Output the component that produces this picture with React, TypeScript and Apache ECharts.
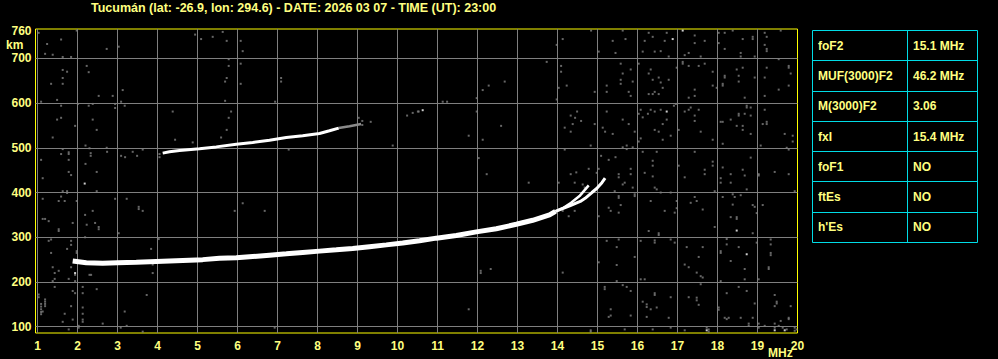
import React, { useEffect, useRef } from "react";
import * as echarts from "echarts";

const TITLE = "Tucumán (lat: -26.9, lon: 294.6) - DATE: 2026 03 07 - TIME (UT): 23:00";
const xGridValues = [1, 2, 3, 4, 5, 6, 7, 8, 9, 10, 11, 12, 13, 14, 15, 16, 17, 18, 19];
const xLabelValues = [1, 2, 3, 4, 5, 6, 7, 8, 9, 10, 11, 12, 13, 14, 15, 16, 17, 18, 19, 20];
const yGridValues = [100, 200, 300, 400, 500, 600, 700];
const yLabelValues = [100, 200, 300, 400, 500, 600, 700, 760];

const tableLabels = ["foF2", "MUF(3000)F2", "M(3000)F2", "fxI", "foF1", "ftEs", "h'Es"];
const tableValues = ["15.1 MHz", "46.2 MHz", "3.06", "15.4 MHz", "NO", "NO", "NO"];

// main F2 trace (MHz, km)
const lowTrace = [
  [1.88, 247], [2.22, 243], [2.63, 242], [3.0, 243], [3.47, 244], [4.3, 247], [5.13, 250],
  [5.55, 253], [5.97, 254], [6.38, 257], [6.8, 260], [7.22, 263], [7.63, 266], [8.05, 269],
  [8.47, 272], [8.88, 275], [9.3, 279], [9.72, 283], [10.13, 287], [10.55, 292], [10.97, 298],
  [11.47, 304], [11.97, 312], [12.47, 319], [12.97, 329], [13.38, 338], [13.8, 350], [13.95, 358],
];
const branchA = [[13.95, 358], [14.13, 365], [14.34, 377], [14.55, 392], [14.78, 416]];
const branchB = [
  [13.95, 358], [14.32, 371], [14.57, 380], [14.69, 387], [14.86, 400], [14.98, 409],
  [15.11, 422], [15.19, 432],
];
// second hop trace
const upperTrace = [
  [4.13, 488], [4.3, 491], [4.55, 494], [5.05, 498], [5.47, 502], [5.97, 508], [6.38, 512],
  [6.8, 517], [7.22, 523], [7.63, 527], [8.05, 532], [8.3, 538], [8.53, 544],
];
const upperTail = [[8.53, 544], [8.8, 548], [9.09, 553]];

const noiseWhite = [
  [2.18, 420], [1.94, 220], [10.63, 584], [16.88, 743], [17.13, 762], [16.73, 581],
  [18.48, 315], [18.73, 262], [17.73, 92], [19.43, 92], [19.68, 92],
];

const noiseGray = [
  [1.03,757],[1.24,732],[1.59,742],[1.19,710],[1.38,708],[1.63,703],[1.84,703],[1.98,762],[2.73,721],[3.03,726],[1.63,674],[1.74,670],[2.23,683],[2.28,669],[1.63,656],[1.34,643],[1.63,643],[2.53,616],[2.88,616],[3.13,629],[1.09,603],[1.49,607],[2.01,598],[2.28,594],[2.38,598],[2.94,598],[2.94,589],[3.09,603],[3.18,594],[1.59,594],[1.49,563],[1.59,567],[1.94,549],[2.38,563],[2.48,540],[1.38,523],[2.2,505],[2.3,499],[2.73,500],[1.63,497],[1.59,486],[1.78,490],[1.78,486],[1.09,473],[1.78,473],[2.2,464],[2.33,488],[2.33,482],[3.09,482],[3.19,479],[3.38,491],[3.49,482],[3.63,496],[2.74,491],[1.78,446],[1.84,439],[2.48,446],[1.13,432],[4.05,486],[4.05,479],[4.38,581],[4.44,518],[4.88,512],[4.94,753],[5.09,743],[5.38,748],[5.63,759],[5.73,739],[6.08,739],[6.13,716],[5.78,698],[5.78,683],[6.08,688],[5.73,656],[5.69,648],[6.08,643],[5.69,605],[5.84,581],[5.78,567],[5.73,540],[5.59,523],[7.09,656],[7.09,648],[6.94,603],[7.28,496],[9.03,567],[9.12,560],[9.12,551],[9.33,558],[9.88,505],[10.24,572],[10.38,578],[10.51,581],
  [10.53,581],[11.13,603],[11.24,603],[12.13,629],[12.28,639],[12.68,648],[12.59,549],[11.78,527],[12.13,518],[11.98,611],[11.98,581],[12.03,477],[12.23,441],[13.73,692],[13.98,730],[14.13,743],[14.09,683],[14.09,670],[14.03,634],[14.23,639],[13.98,608],[14.33,572],[14.44,567],[14.59,560],[14.49,581],[14.38,553],[14.18,545],[14.33,536],[14.84,762],[15.03,715],[15.38,739],[15.45,712],[15.63,762],[15.7,743],[15.58,688],[15.63,666],[15.83,675],[15.58,652],[15.58,643],[15.88,648],[15.23,639],[15.23,625],[14.93,625],[15.78,625],[15.83,616],[15.23,581],[15.13,545],[15.19,536],[15.38,531],[15.63,563],[15.78,553],[15.93,536],[14.93,553],[14.83,505],[14.18,496],[15.09,482],[15.28,473],[15.45,479],[15.03,453],[14.98,444],[14.78,453],[14.47,445],[14.33,441],[15.53,441],[15.53,434],[15.73,505],[15.73,497],[15.63,501],[15.88,501],[15.83,453],[16.18,739],[16.28,757],[16.38,748],[16.13,715],[16.43,715],[16.58,716],[16.68,739],[16.73,757],[16.78,704],[16.03,688],[16.28,666],[16.33,675],[16.38,652],[16.53,657],[16.58,646],[16.78,652],[16.63,634],[16.43,625],[16.38,620],[16.53,620],[16.28,620],[16.03,576],[16.13,568],[16.26,576],[16.08,585],[16.33,585],[16.43,581],[16.58,585],[16.73,563],[16.63,553],[16.43,540],[16.53,536],[16.63,518],[16.83,527],[16.08,521],[16.03,514],[16.13,491],[16.48,491],[16.38,471],[16.38,460],[16.18,444],[16.38,436],[15.83,441],[17.43,751],[17.43,734],[17.68,739],[17.28,712],[17.18,707],[17.58,704],[17.13,692],[17.13,688],[17.28,683],[17.53,683],[17.68,688],[16.98,679],[17.88,670],[17.88,639],[17.98,634],[17.43,630],[17.43,616],[17.28,612],[16.91,594],[16.96,598],[17.18,581],[17.28,585],[17.33,590],[17.53,585],[17.43,572],[17.43,560],[17.03,540],[17.58,536],[17.88,518],[17.43,491],[17.03,460],[17.88,469],[17.88,460],[17.18,434],[17.68,451],[17.68,441],[18.03,757],[18.03,734],[18.18,757],[18.38,762],[18.63,743],[18.88,748],[18.88,743],[18.18,721],[18.58,712],[18.58,704],[18.93,704],[19.18,757],[19.23,748],[19.18,730],[19.23,721],[19.23,716],[19.58,762],[19.53,698],[18.18,661],[18.18,657],[18.13,643],[18.13,639],[18.53,661],[18.53,648],[18.48,675],[18.63,679],[18.93,657],[19.18,657],[19.23,679],[19.78,683],[19.78,679],[19.83,666],[19.53,630],[19.78,639],[18.68,612],[19.18,616],[18.73,594],[18.73,590],[18.83,590],[18.53,572],[18.53,576],[18.33,563],[18.08,558],[18.13,558],[18.68,576],[18.83,572],[18.48,549],[18.63,549],[18.63,540],[18.83,531],[19.18,585],[19.23,558],[19.23,553],[19.13,553],[19.68,531],[19.88,527],[19.88,514],[18.13,509],[19.08,505],[19.73,500],[19.78,496],[18.13,456],[18.33,441],[18.63,451],[18.68,438],[18.83,478],[19.03,441],[19.03,438],[19.43,446],[19.78,441],[18.08,432],
  [2.48,403],[1.63,403],[1.74,403],[1.74,399],[1.59,391],[1.13,386],[1.53,381],[1.68,381],[1.98,381],[2.94,386],[3.23,386],[3.53,368],[3.53,363],[3.63,359],[2.38,359],[2.19,350],[1.13,341],[1.19,341],[1.28,336],[1.88,332],[2.23,328],[2.44,332],[2.53,323],[2.53,318],[1.53,318],[1.53,314],[3.03,309],[2.19,300],[4.03,296],[1.28,292],[1.34,295],[1.84,292],[1.84,283],[1.74,274],[1.34,265],[1.98,269],[1.98,265],[3.84,274],[6.13,376],[5.93,359],[6.68,359],[1.38,233],[1.84,233],[1.53,225],[1.43,220],[1.94,216],[2.3,216],[2.34,216],[3.88,239],[3.88,220],[1.78,207],[1.43,207],[1.38,202],[1.94,202],[1.43,189],[2.13,189],[2.48,184],[1.88,180],[1.94,175],[2.13,175],[1.03,172],[1.03,166],[1.19,161],[1.19,156],[1.19,151],[1.19,146],[1.09,151],[1.09,145],[1.09,139],[1.09,133],[1.09,128],[1.13,134],[3.73,171],[1.84,146],[2.13,143],[1.68,129],[2.13,129],[3.18,134],[1.88,116],[2.13,116],[2.13,111],[1.63,111],[2.63,107],[2.03,102],[2.03,98],[1.78,94],[3.23,102],[3.08,98],[3.63,89],[6.93,98],
  [13.28,422],[14.03,422],[14.43,422],[14.63,418],[14.68,411],[14.13,359],[14.28,347],[14.43,359],[15.03,347],[15.28,366],[15.33,359],[15.53,388],[15.53,392],[15.43,403],[15.63,418],[15.68,422],[15.93,392],[15.93,396],[15.58,372],[15.53,355],[15.88,411],[16.33,381],[16.68,359],[16.93,355],[16.98,365],[16.43,411],[16.48,407],[16.58,400],[16.83,400],[16.98,381],[17.43,390],[17.48,381],[17.33,377],[17.63,362],[17.93,403],[18.08,422],[18.33,422],[18.13,390],[18.38,396],[18.43,390],[18.58,394],[18.38,373],[18.73,407],[18.88,372],[18.93,368],[19.13,372],[18.98,354],[19.93,403],[17.93,323],[18.33,345],[18.48,345],[18.48,341],[18.88,309],[16.28,314],[16.53,309],[16.53,305],[15.23,292],[15.53,295],[15.48,278],[16.08,292],[16.43,293],[16.43,288],[16.83,295],[16.93,288],[17.23,278],[17.63,278],[18.23,296],[18.23,284],[18.53,278],[18.98,288],[19.33,295],[19.33,284],[18.08,269],[18.08,265],[19.33,265],[19.33,260],[15.03,244],[15.48,238],[15.93,256],[17.18,239],[17.28,233],[17.53,256],[18.33,247],[18.68,229],[19.28,233],[19.28,229],[12.08,225],[12.08,220],[12.33,229],[14.13,221],[17.48,221],[17.58,213],[17.63,210],[17.58,195],[16.08,206],[16.18,206],[15.48,202],[18.08,202],[18.68,206],[19.03,206],[15.18,189],[15.18,184],[15.63,193],[15.73,189],[15.83,180],[16.43,175],[16.43,171],[16.83,166],[17.28,166],[17.48,165],[17.48,159],[17.53,149],[18.23,175],[18.53,189],[18.73,180],[19.43,171],[19.48,156],[19.48,152],[19.43,146],[18.93,152],[19.83,146],[16.13,156],[16.23,150],[16.23,144],[16.33,139],[16.48,143],[15.33,139],[15.28,122],[15.33,125],[15.83,125],[16.23,122],[16.78,120],[18.03,143],[18.03,138],[18.18,120],[18.23,117],[18.28,120],[18.58,120],[18.78,107],[18.78,102],[18.88,120],[19.03,107],[19.03,98],[19.18,102],[19.43,107],[19.43,98],[19.58,113],[19.78,120],[19.78,117],[19.93,98],[19.93,91],[19.98,94],[17.73,98],[17.78,94],[17.78,89],[14.83,92],[14.83,89],[15.68,94],[16.38,94],[16.83,98],[17.18,92],[19.53,102],[19.63,98],[19.73,94],[11.78,139],
];

const FONT = "'Liberation Sans', Arial, sans-serif";
const TEXT_COLOR = "#ffff80";
const CYAN = "#00dce6";
const GRID_GRAY = "#7f7f7f";

export default function App() {
  const ref = useRef<HTMLDivElement>(null);
  useEffect(() => {
    document.body.style.margin = "0";
    document.body.style.background = "#000";
    if (!ref.current) return;
    const chart = echarts.init(ref.current, undefined, { renderer: "svg" });

    // table graphic
    const tLeft = 812.5, tTop = 30.5, tRight = 977.5, tBottom = 242.5, tCol = 907.5;
    const rowH = (tBottom - tTop) / tableLabels.length;
    const tableEls: any[] = [
      { type: "rect", shape: { x: tLeft, y: tTop, width: tRight - tLeft, height: tBottom - tTop },
        style: { fill: "none", stroke: CYAN, lineWidth: 1 } },
      { type: "line", shape: { x1: tCol, y1: tTop, x2: tCol, y2: tBottom },
        style: { stroke: CYAN, lineWidth: 1 } },
    ];
    for (let i = 1; i < tableLabels.length; i++) {
      const y = Math.round(tTop + rowH * i - 0.5) + 0.5;
      tableEls.push({ type: "line", shape: { x1: tLeft, y1: y, x2: tRight, y2: y },
        style: { stroke: CYAN, lineWidth: 1 } });
    }
    tableLabels.forEach((lab, i) => {
      const cy = tTop + rowH * (i + 0.5);
      tableEls.push({ type: "text", x: 818, y: cy, style: { text: lab, fill: TEXT_COLOR,
        font: `bold 12px ${FONT}`, verticalAlign: "middle", align: "left" } });
      tableEls.push({ type: "text", x: 913, y: cy, style: { text: tableValues[i], fill: TEXT_COLOR,
        font: `bold 12px ${FONT}`, verticalAlign: "middle", align: "left" } });
    });

    chart.setOption({
      animation: false,
      backgroundColor: "#000",
      title: {
        text: TITLE, left: 91, top: 1, padding: 0,
        textStyle: { color: TEXT_COLOR, fontFamily: FONT, fontWeight: "bold", fontSize: 12.5 },
      },
      grid: {
        left: 35.5, right: 200.5, top: 29, bottom: 26, show: true,
        borderColor: "#ffff00", borderWidth: 1, backgroundColor: "#000",
      },
      xAxis: {
        type: "value", min: 0.95, max: 20,
        axisLine: { show: false },
        axisTick: { show: false, customValues: xGridValues },
        axisLabel: { customValues: xLabelValues, color: TEXT_COLOR, fontFamily: FONT,
          fontWeight: "bold", fontSize: 12, margin: 7 },
        splitLine: { show: true, lineStyle: { color: GRID_GRAY, width: 1 } },
      },
      yAxis: {
        type: "value", min: 86, max: 765.5,
        axisLine: { show: false },
        axisTick: { show: false, customValues: yGridValues },
        axisLabel: { customValues: yLabelValues, color: TEXT_COLOR, fontFamily: FONT,
          fontWeight: "bold", fontSize: 12, margin: 4 },
        splitLine: { show: true, lineStyle: { color: GRID_GRAY, width: 1 } },
      },
      graphic: [
        { type: "text", x: 6, y: 45, style: { text: "km", fill: TEXT_COLOR,
          font: `bold 12px ${FONT}`, verticalAlign: "middle" } },
        { type: "text", x: 768, y: 353, style: { text: "MHz", fill: TEXT_COLOR,
          font: `bold 12px ${FONT}`, verticalAlign: "middle" } },
        ...tableEls,
      ],
      series: [
        { type: "scatter", data: noiseGray, symbol: "rect", symbolSize: [2, 2], silent: true,
          itemStyle: { color: "#808080" } },
        { type: "scatter", data: noiseWhite, symbol: "rect", symbolSize: [2, 2], silent: true,
          itemStyle: { color: "#ffffff" } },
        { type: "line", data: upperTail, symbol: "none", silent: true,
          lineStyle: { color: "#8a8a8a", width: 2.5 } },
        { type: "line", data: upperTrace, symbol: "none", silent: true,
          lineStyle: { color: "#ffffff", width: 3 } },
        { type: "line", data: lowTrace, symbol: "none", silent: true,
          lineStyle: { color: "#ffffff", width: 5 } },
        { type: "line", data: branchA, symbol: "none", silent: true,
          lineStyle: { color: "#ffffff", width: 2.5 } },
        { type: "line", data: branchB, symbol: "none", silent: true,
          lineStyle: { color: "#ffffff", width: 3 } },
      ],
    });
    return () => chart.dispose();
  }, []);
  return <div ref={ref} style={{ width: 998, height: 359, background: "#000" }} />;
}
